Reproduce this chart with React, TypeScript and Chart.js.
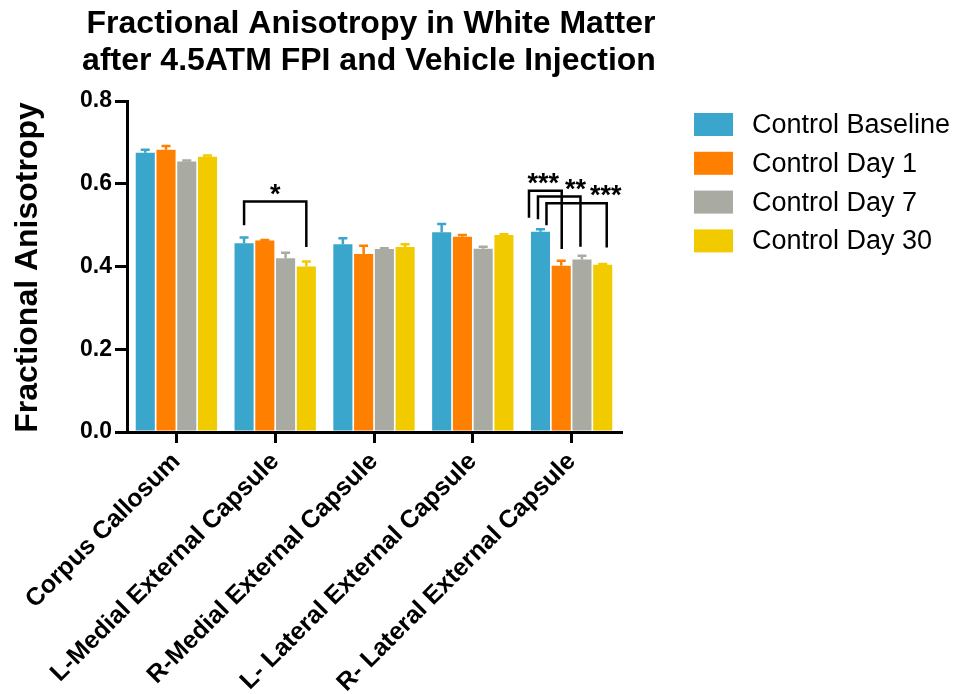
import { useEffect, useRef } from 'react';
import { Chart, registerables } from 'chart.js';

Chart.register(...registerables);

const FONT = '"Liberation Sans", Arial, sans-serif';

const categories = [
  'Corpus Callosum',
  'L-Medial External Capsule',
  'R-Medial External Capsule',
  'L- Lateral External Capsule',
  'R- Lateral External Capsule',
];
const seriesNames = ['Control Baseline', 'Control Day 1', 'Control Day 7', 'Control Day 30'];
const baseline = [0.675, 0.456, 0.454, 0.483, 0.484];
const day1 = [0.682, 0.463, 0.43, 0.472, 0.402];
const day7 = [0.654, 0.42, 0.442, 0.443, 0.417];
const day30 = [0.665, 0.4, 0.447, 0.476, 0.404];
const baselineErr = [0.007, 0.014, 0.014, 0.02, 0.006];
const day1Err = [0.009, 0.001, 0.02, 0.004, 0.012];
const day7Err = [0.002, 0.013, 0.002, 0.005, 0.009];
const day30Err = [0.003, 0.012, 0.007, 0.002, 0.002];
const yTicks = [0, 0.2, 0.4, 0.6, 0.8];
const titleLines = ['Fractional Anisotropy in White Matter', 'after 4.5ATM FPI and Vehicle Injection'];
const yTitle = 'Fractional Anisotropy';

// significance brackets
const sigCategory = [1, 4, 4, 4];
const sigFrom = [0, 0, 0, 0];
const sigTo = [3, 1, 2, 3];
const sigLabels = ['*', '***', '**', '***'];
const sigTop = [0.557, 0.583, 0.569, 0.553];
const sigLeftEnd = [0.5, 0.518, 0.514, 0.5];
const sigRightEnd = [0.447, 0.442, 0.448, 0.446];

const colors = ['#3AA6CC', '#FF7F00', '#A9ABA2', '#F2CA00'];
const seriesValues = [baseline, day1, day7, day30];
const seriesErrors = [baselineErr, day1Err, day7Err, day30Err];

// drawing offsets for the bracket legs / labels (style only)
const legDxLeft = [0, -11.5, -2.5, 6];
const legDxRight = [0, 0.5, -1.5, 4];
const labelAnchor = ['center', 'center', 'right', 'right'];
const labelDx = [0, -2, -5, -1];

const decorPlugin = {
  id: 'decor',
  afterDatasetsDraw(chart: any) {
    const ctx = chart.ctx;
    const y = chart.scales.y;
    // error bars (upper only)
    chart.data.datasets.forEach((ds: any, i: number) => {
      const meta = chart.getDatasetMeta(i);
      meta.data.forEach((el: any, j: number) => {
        const v = ds.data[j];
        const e = seriesErrors[i][j];
        const top = el.y;
        const ey = y.getPixelForValue(v + e);
        ctx.save();
        ctx.strokeStyle = colors[i];
        ctx.lineWidth = 2.5;
        ctx.beginPath();
        ctx.moveTo(el.x, top);
        ctx.lineTo(el.x, ey);
        ctx.moveTo(el.x - 4.5, ey);
        ctx.lineTo(el.x + 4.5, ey);
        ctx.stroke();
        ctx.restore();
      });
    });
    // significance brackets
    sigLabels.forEach((lab, k) => {
      const c = sigCategory[k];
      const a = chart.getDatasetMeta(sigFrom[k]).data[c];
      const b = chart.getDatasetMeta(sigTo[k]).data[c];
      const xl = a.x + legDxLeft[k];
      const xr = b.x + legDxRight[k];
      const yt = y.getPixelForValue(sigTop[k]);
      const yl = y.getPixelForValue(sigLeftEnd[k]);
      const yr = y.getPixelForValue(sigRightEnd[k]);
      ctx.save();
      ctx.strokeStyle = '#000';
      ctx.lineWidth = 2.5;
      ctx.lineJoin = 'miter';
      ctx.beginPath();
      ctx.moveTo(xl, yl);
      ctx.lineTo(xl, yt);
      ctx.lineTo(xr, yt);
      ctx.lineTo(xr, yr);
      ctx.stroke();
      ctx.fillStyle = '#000';
      ctx.font = `bold 27px ${FONT}`;
      ctx.textAlign = 'center';
      ctx.textBaseline = 'alphabetic';
      const lx = (labelAnchor[k] === 'center' ? (xl + xr) / 2 : xr) + labelDx[k];
      ctx.fillText(lab, lx, yt + 1);
      ctx.restore();
    });
  },
  afterDraw(chart: any) {
    const ctx = chart.ctx;
    const area = chart.chartArea;
    ctx.save();
    ctx.fillStyle = '#000';
    // title
    ctx.font = `bold 32px ${FONT}`;
    ctx.textAlign = 'center';
    ctx.textBaseline = 'alphabetic';
    ctx.fillText(titleLines[0], 371, 33);
    ctx.fillText(titleLines[1], 369, 70);
    // y title
    ctx.save();
    ctx.translate(37, (area.top + area.bottom) / 2 + 1);
    ctx.rotate(-Math.PI / 2);
    ctx.font = `bold 32px ${FONT}`;
    ctx.textAlign = 'center';
    ctx.fillText(yTitle, 0, 0);
    ctx.restore();
    // legend
    seriesNames.forEach((name, i) => {
      const top = 113 + i * 38.8;
      ctx.fillStyle = colors[i];
      ctx.fillRect(694, top, 39, 23);
      ctx.fillStyle = '#000';
      ctx.font = `27px ${FONT}`;
      ctx.textAlign = 'left';
      ctx.textBaseline = 'middle';
      ctx.fillText(name, 752, top + 12.5);
    });
    ctx.restore();
  },
};

export default function App() {
  const ref = useRef<HTMLCanvasElement | null>(null);
  useEffect(() => {
    if (!ref.current) return;
    const chart = new Chart(ref.current, {
      type: 'bar',
      data: {
        labels: categories,
        datasets: seriesNames.map((n, i) => ({
          label: n,
          data: seriesValues[i],
          backgroundColor: colors[i],
          borderWidth: 0,
          categoryPercentage: 0.84,
          barPercentage: 0.92,
        })),
      },
      options: {
        responsive: false,
        animation: false,
        layout: { padding: { top: 101, right: 335, left: 0, bottom: 0 } },
        plugins: { legend: { display: false }, title: { display: false }, tooltip: { enabled: false } },
        scales: {
          x: {
            type: 'category',
            offset: true,
            afterFit: (s: any) => { s.height = 262; },
            grid: { display: true, drawOnChartArea: false, drawTicks: true, tickLength: 11, color: '#000', lineWidth: 3, offset: false },
            border: { display: true, color: '#000', width: 3 },
            ticks: {
              color: '#000',
              font: { family: FONT, size: 25, weight: 'bold' },
              minRotation: 45,
              maxRotation: 45,
              autoSkip: false,
              padding: 4,
            },
          },
          y: {
            min: 0,
            max: 0.8,
            afterFit: (s: any) => { s.width = 127; },
            afterBuildTicks: (s: any) => { s.ticks = yTicks.map((v) => ({ value: v })); },
            grid: { display: true, drawOnChartArea: false, drawTicks: true, tickLength: 12, color: '#000', lineWidth: 3 },
            border: { display: true, color: '#000', width: 3 },
            ticks: {
              color: '#000',
              font: { family: FONT, size: 23, weight: 'bold' },
              padding: 3,
              callback: (v: any) => Number(v).toFixed(1),
            },
          },
        },
      },
      plugins: [decorPlugin],
    } as any);
    return () => chart.destroy();
  }, []);
  return (
    <div style={{ position: 'absolute', left: 0, top: 0, width: 956, height: 694, background: '#fff' }}>
      <canvas ref={ref} width={956} height={694} style={{ display: 'block' }} />
    </div>
  );
}
